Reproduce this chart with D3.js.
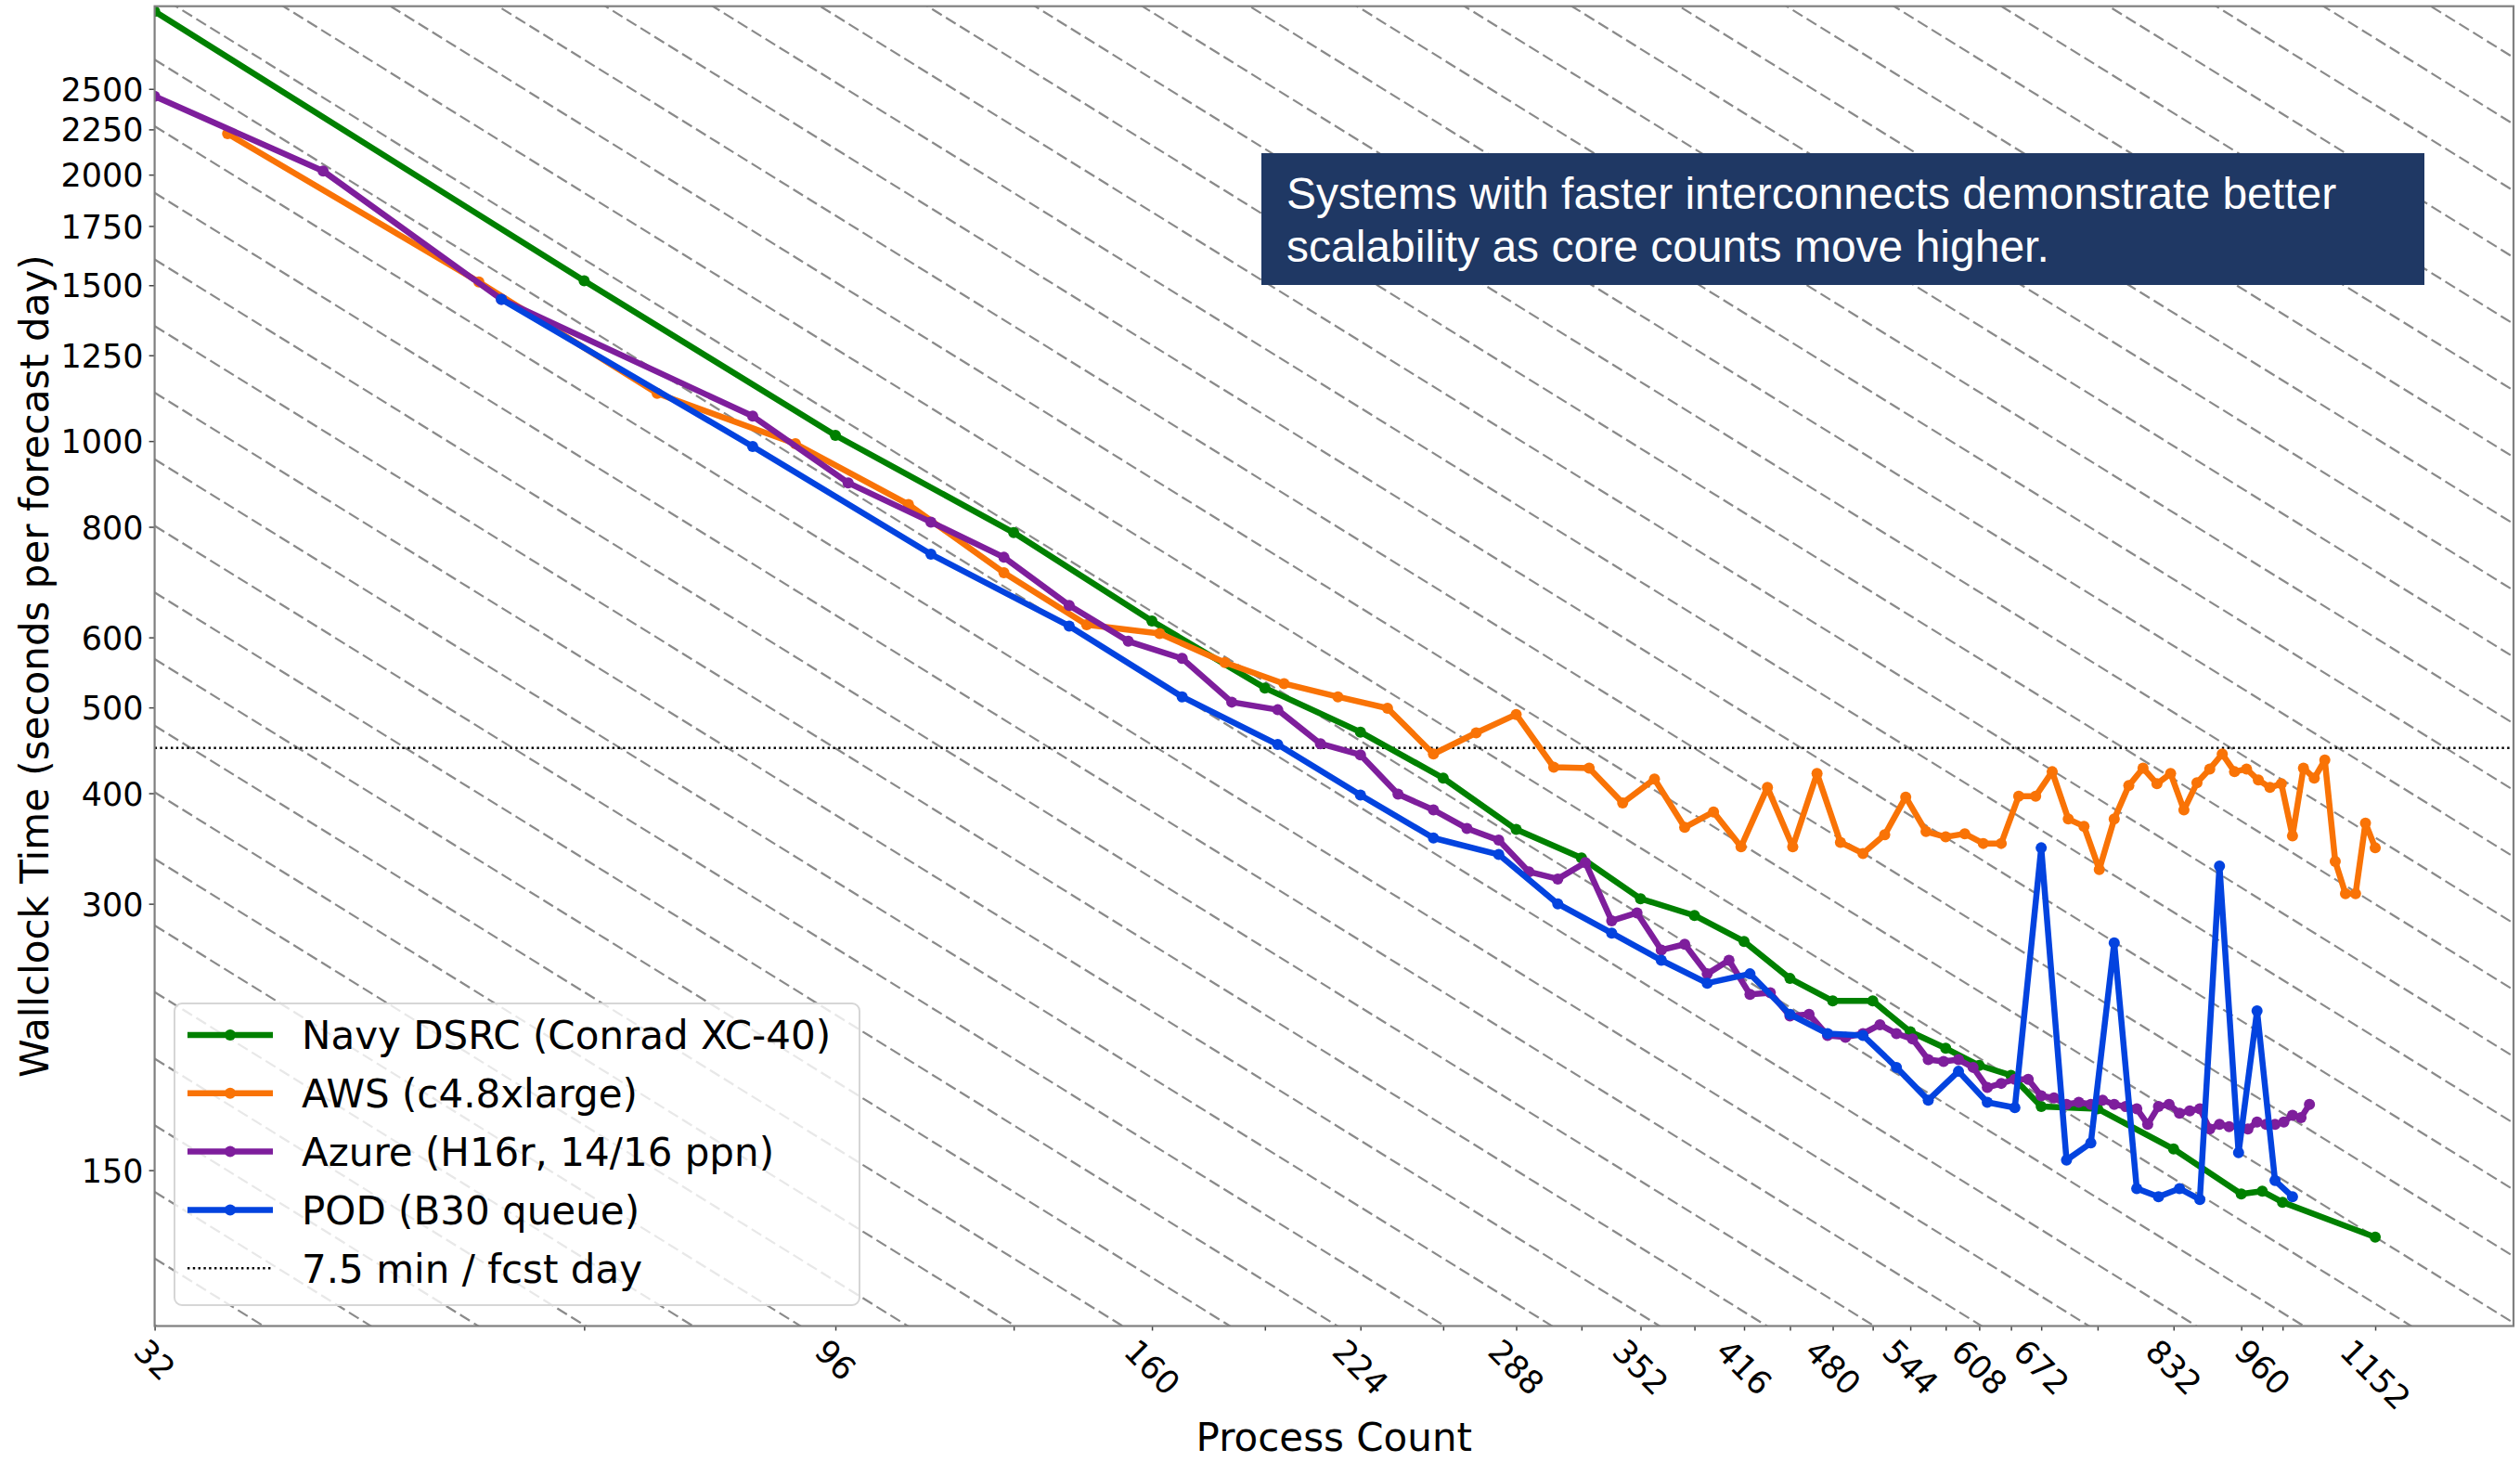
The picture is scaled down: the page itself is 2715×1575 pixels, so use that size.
<!DOCTYPE html>
<html>
<head>
<meta charset="utf-8">
<script src="https://cdn.jsdelivr.net/npm/d3@7"></script>
<style>
  html, body { margin: 0; padding: 0; background: #fff; }
  #chart-container { width: 2715px; height: 1575px; }
  .chart-axis text { font-family: "DejaVu Sans", sans-serif; fill: #000; }
</style>
</head>
<body>
<div id="chart-container"></div>
<script>
//data
var navyCounts = [32, 64, 96, 128, 160, 192, 224, 256, 288, 320, 352, 384, 416, 448, 480, 512, 544, 576, 608, 640, 672, 736, 832, 928, 960, 992, 1152];
var navyTimes = [3058, 1517, 1015, 788, 626, 526, 469, 416, 364, 338, 304, 291, 272, 247, 233, 233, 215, 206, 197, 192, 177, 176, 158.5, 141, 142, 138, 126];

var awsCounts = [36, 54, 72, 90, 108, 126, 144, 162, 180, 198, 216, 234, 252, 270, 288, 306, 324, 342, 360, 378, 396, 414, 432, 450, 468, 486, 504, 522, 540, 558, 576, 594, 612, 630, 648, 666, 684, 702, 720, 738, 756, 774, 792, 810, 828, 846, 864, 882, 900, 918, 936, 954, 972, 990, 1008, 1026, 1044, 1062, 1080, 1098, 1116, 1134, 1152];
var awsTimes = [2225, 1513, 1132, 993, 848, 710, 620, 606, 562, 532, 514, 499, 443, 468, 491, 428, 427, 390, 415, 366, 381, 348, 406, 348, 421, 352, 342, 359, 396, 362, 357, 360, 351, 351, 397, 397, 423, 374, 367, 328, 374, 408, 427, 410, 421, 383, 411, 426, 443, 423, 426, 414, 406, 410, 358, 427, 416, 436, 335, 308, 308, 370, 347];

var azureCounts = [32, 42, 56, 84, 98, 112, 126, 140, 154, 168, 182, 196, 210, 224, 238, 252, 266, 280, 294, 308, 322, 336, 350, 364, 378, 392, 406, 420, 434, 448, 462, 476, 490, 504, 518, 532, 546, 560, 574, 588, 602, 616, 630, 644, 658, 672, 686, 700, 714, 728, 742, 756, 770, 784, 798, 812, 826, 840, 854, 868, 882, 896, 910, 924, 938, 952, 966, 980, 994, 1008, 1022, 1036];
var azureTimes = [2452, 2019, 1446, 1067, 897, 810, 739, 652, 594, 568, 507, 497, 455, 442, 399, 383, 365, 354, 326, 320, 334, 287, 293, 266, 270, 250, 259, 237, 238, 224, 225, 213, 212, 214, 219, 214, 211, 200, 199, 200, 196, 186, 188, 190, 190, 182, 181, 178, 179, 178, 180, 178, 177, 176, 169, 177, 178, 174, 175, 176, 167, 169, 168, 168, 167, 170, 169, 169, 170, 173, 172, 178];

var podCounts = [56, 84, 112, 140, 168, 196, 224, 252, 280, 308, 336, 364, 392, 420, 448, 476, 504, 532, 560, 588, 616, 644, 672, 700, 728, 756, 784, 812, 840, 868, 896, 924, 952, 980, 1008];
var podTimes = [1446, 986, 745, 618, 514, 454, 398, 356, 341, 300, 278, 259, 244, 250, 225, 214, 213, 196, 180, 194, 179, 176.5, 347, 154, 161, 271, 143, 140, 143, 139, 331, 157, 227, 146, 140];

var seriesNames = ['Navy DSRC (Conrad XC-40)', 'AWS (c4.8xlarge)', 'Azure (H16r, 14/16 ppn)', 'POD (B30 queue)'];
var seriesColors = ['#008000', '#f97306', '#7e1e9c', '#0343df'];

var xTickValues = navyCounts;
var xTickLabelled = [32, 96, 160, 224, 288, 352, 416, 480, 544, 608, 672, 832, 960, 1152];
var yTickValues = [150, 300, 400, 500, 600, 800, 1000, 1250, 1500, 1750, 2000, 2250, 2500];

var targetTime = 450;
var targetLabel = '7.5 min / fcst day';
var xLabel = 'Process Count';
var yLabel = 'Wallclock Time (seconds per forecast day)';
var noteLines = ['Systems with faster interconnects demonstrate better', 'scalability as core counts move higher.'];

//ideal scaling guide lines (time * count = const)
var idealBase = 3815,
    idealStep = Math.pow(2, 0.25);

//containers
var chartContainer = d3.select('#chart-container'),
    chartSvg,
    chartG;

//sizes
var outerW = 2715,
    outerH = 1575,
    chartW,
    chartH,
    chartMargin;

//scales
var xScale,
    yScale;

function buildChart() {
    chartSvg = chartContainer.append('svg')
        .attr('width', outerW)
        .attr('height', outerH);

    chartSvg.append('rect')
        .attr('width', outerW)
        .attr('height', outerH)
        .attr('fill', '#fff');

    chartSvg.append('defs').append('clipPath')
        .attr('id', 'plot-clip')
        .append('rect')
        .attr('x', 0)
        .attr('y', 0)
        .attr('width', chartW)
        .attr('height', chartH);

    chartG = chartSvg.append('g')
        .attr('transform', 'translate(' + chartMargin.left + ', ' + chartMargin.top + ')');

    var clipped = chartG.append('g')
        .attr('clip-path', 'url(#plot-clip)');

    //guide lines
    var idealConsts = d3.range(-2, 44).map(function(n) {
        return idealBase * Math.pow(idealStep, n);
    });
    var xMin = xScale.domain()[0],
        xMax = xScale.domain()[1];

    clipped.selectAll('.ideal-line')
        .data(idealConsts)
        .enter()
        .append('line')
        .attr('class', 'ideal-line')
        .attr('x1', xScale(xMin))
        .attr('y1', function(d) { return yScale(d / xMin); })
        .attr('x2', xScale(xMax))
        .attr('y2', function(d) { return yScale(d / xMax); })
        .attr('stroke', '#8a8a8a')
        .attr('stroke-width', 2.2)
        .attr('stroke-dasharray', '12.3,5.3');

    //7.5 min line
    clipped.append('line')
        .attr('x1', 0)
        .attr('x2', chartW)
        .attr('y1', yScale(targetTime))
        .attr('y2', yScale(targetTime))
        .attr('stroke', '#000')
        .attr('stroke-width', 2.4)
        .attr('stroke-dasharray', '2.4,3.4');

    //series
    var seriesData = [
        {counts: navyCounts, times: navyTimes},
        {counts: awsCounts, times: awsTimes},
        {counts: azureCounts, times: azureTimes},
        {counts: podCounts, times: podTimes}
    ];

    var line = d3.line()
        .x(function(d) { return xScale(d[0]); })
        .y(function(d) { return yScale(d[1]); });

    seriesData.forEach(function(s, i) {
        var pts = s.counts.map(function(c, j) { return [c, s.times[j]]; });
        var g = clipped.append('g').attr('class', 'series-' + i);

        g.append('path')
            .datum(pts)
            .attr('d', line)
            .attr('fill', 'none')
            .attr('stroke', seriesColors[i])
            .attr('stroke-width', 6.5)
            .attr('stroke-linejoin', 'round')
            .attr('stroke-linecap', 'butt');

        g.selectAll('circle')
            .data(pts)
            .enter()
            .append('circle')
            .attr('cx', function(d) { return xScale(d[0]); })
            .attr('cy', function(d) { return yScale(d[1]); })
            .attr('r', 6)
            .attr('fill', seriesColors[i]);
    });

    //axes
    var xAxis = d3.axisBottom(xScale)
        .tickValues(xTickValues)
        .tickSize(5)
        .tickSizeOuter(0)
        .tickFormat(function(d) {
            return xTickLabelled.indexOf(d) >= 0 ? d : '';
        });

    var xAxisG = chartG.append('g')
        .attr('class', 'chart-axis')
        .attr('transform', 'translate(0,' + chartH + ')')
        .call(xAxis);

    xAxisG.select('.domain').remove();
    xAxisG.selectAll('.tick line').attr('stroke', '#444').attr('stroke-width', 1.5);

    var xFont = 35;
    xAxisG.selectAll('.tick text').each(function() {
        var t = d3.select(this);
        t.attr('y', 0)
            .attr('dy', null)
            .attr('text-anchor', 'middle')
            .style('font-size', xFont + 'px');
        var w = this.getComputedTextLength();
        var cy = 11.5 + (w + 0.73 * xFont) * Math.SQRT1_2 / 2;
        t.attr('y', 0.365 * xFont)
            .attr('transform', 'translate(0,' + cy + ') rotate(45)');
    });

    var yAxis = d3.axisLeft(yScale)
        .tickValues(yTickValues)
        .tickSize(6)
        .tickPadding(6)
        .tickSizeOuter(0)
        .tickFormat(d3.format('d'));

    var yAxisG = chartG.append('g')
        .attr('class', 'chart-axis')
        .call(yAxis);

    yAxisG.select('.domain').remove();
    yAxisG.selectAll('.tick line').attr('stroke', '#444').attr('stroke-width', 1.5);
    yAxisG.selectAll('.tick text')
        .attr('dy', '0.36em')
        .style('font-size', '35px');

    //frame
    chartG.append('rect')
        .attr('x', 0)
        .attr('y', 0)
        .attr('width', chartW)
        .attr('height', chartH)
        .attr('fill', 'none')
        .attr('stroke', '#7f7f7f')
        .attr('stroke-width', 2.2);

    //axis titles
    chartSvg.append('text')
        .attr('x', chartMargin.left + chartW / 2)
        .attr('y', 1563)
        .attr('text-anchor', 'middle')
        .style('font-family', '"DejaVu Sans", sans-serif')
        .style('font-size', '42px')
        .text(xLabel);

    chartSvg.append('text')
        .attr('transform', 'translate(37,' + (chartMargin.top + chartH / 2) + ') rotate(-90)')
        .attr('text-anchor', 'middle')
        .attr('dy', '0.36em')
        .style('font-family', '"DejaVu Sans", sans-serif')
        .style('font-size', '42px')
        .text(yLabel);

    buildLegend();
    buildNote();
}

function buildLegend() {
    var legendG = chartSvg.append('g')
        .attr('transform', 'translate(188, 1081)');

    legendG.append('rect')
        .attr('width', 738)
        .attr('height', 325)
        .attr('rx', 8)
        .attr('fill', '#fff')
        .attr('fill-opacity', 0.8)
        .attr('stroke', '#d6d6d6')
        .attr('stroke-width', 2);

    var rows = seriesNames.concat([targetLabel]);

    rows.forEach(function(name, i) {
        var y = 34 + i * 62.8;
        var row = legendG.append('g').attr('transform', 'translate(0,' + y + ')');

        if (i < seriesNames.length) {
            row.append('line')
                .attr('x1', 14)
                .attr('x2', 106)
                .attr('stroke', seriesColors[i])
                .attr('stroke-width', 6.5);
            row.append('circle')
                .attr('cx', 60)
                .attr('r', 6)
                .attr('fill', seriesColors[i]);
        } else {
            row.append('line')
                .attr('x1', 14)
                .attr('x2', 106)
                .attr('stroke', '#000')
                .attr('stroke-width', 2.4)
                .attr('stroke-dasharray', '2.4,3.4');
        }

        row.append('text')
            .attr('x', 137)
            .attr('dy', '0.365em')
            .style('font-family', '"DejaVu Sans", sans-serif')
            .style('font-size', '42px')
            .attr('fill', '#000')
            .text(name);
    });
}

function buildNote() {
    var noteG = chartSvg.append('g');

    noteG.append('rect')
        .attr('x', 1359)
        .attr('y', 165)
        .attr('width', 1253)
        .attr('height', 142)
        .attr('fill', '#1f3864');

    noteG.selectAll('text')
        .data(noteLines)
        .enter()
        .append('text')
        .attr('x', 1386)
        .attr('y', function(d, i) { return 225 + i * 57; })
        .attr('fill', '#fff')
        .style('font-family', '"Liberation Sans", Arial, sans-serif')
        .style('font-size', '48px')
        .text(function(d) { return d; });
}

function setupChart() {
    chartMargin = {
        left: 166.6,
        right: 7,
        top: 6.7,
        bottom: 146.5
    };

    chartW = outerW - chartMargin.left - chartMargin.right,
    chartH = outerH - chartMargin.top - chartMargin.bottom;

    xScale = d3.scaleLog().domain([32, 1440]).range([0, chartW]);
    yScale = d3.scaleLog().domain([100, 3100]).range([chartH, 0]);

    buildChart();
}

setupChart();
</script>
</body>
</html>
